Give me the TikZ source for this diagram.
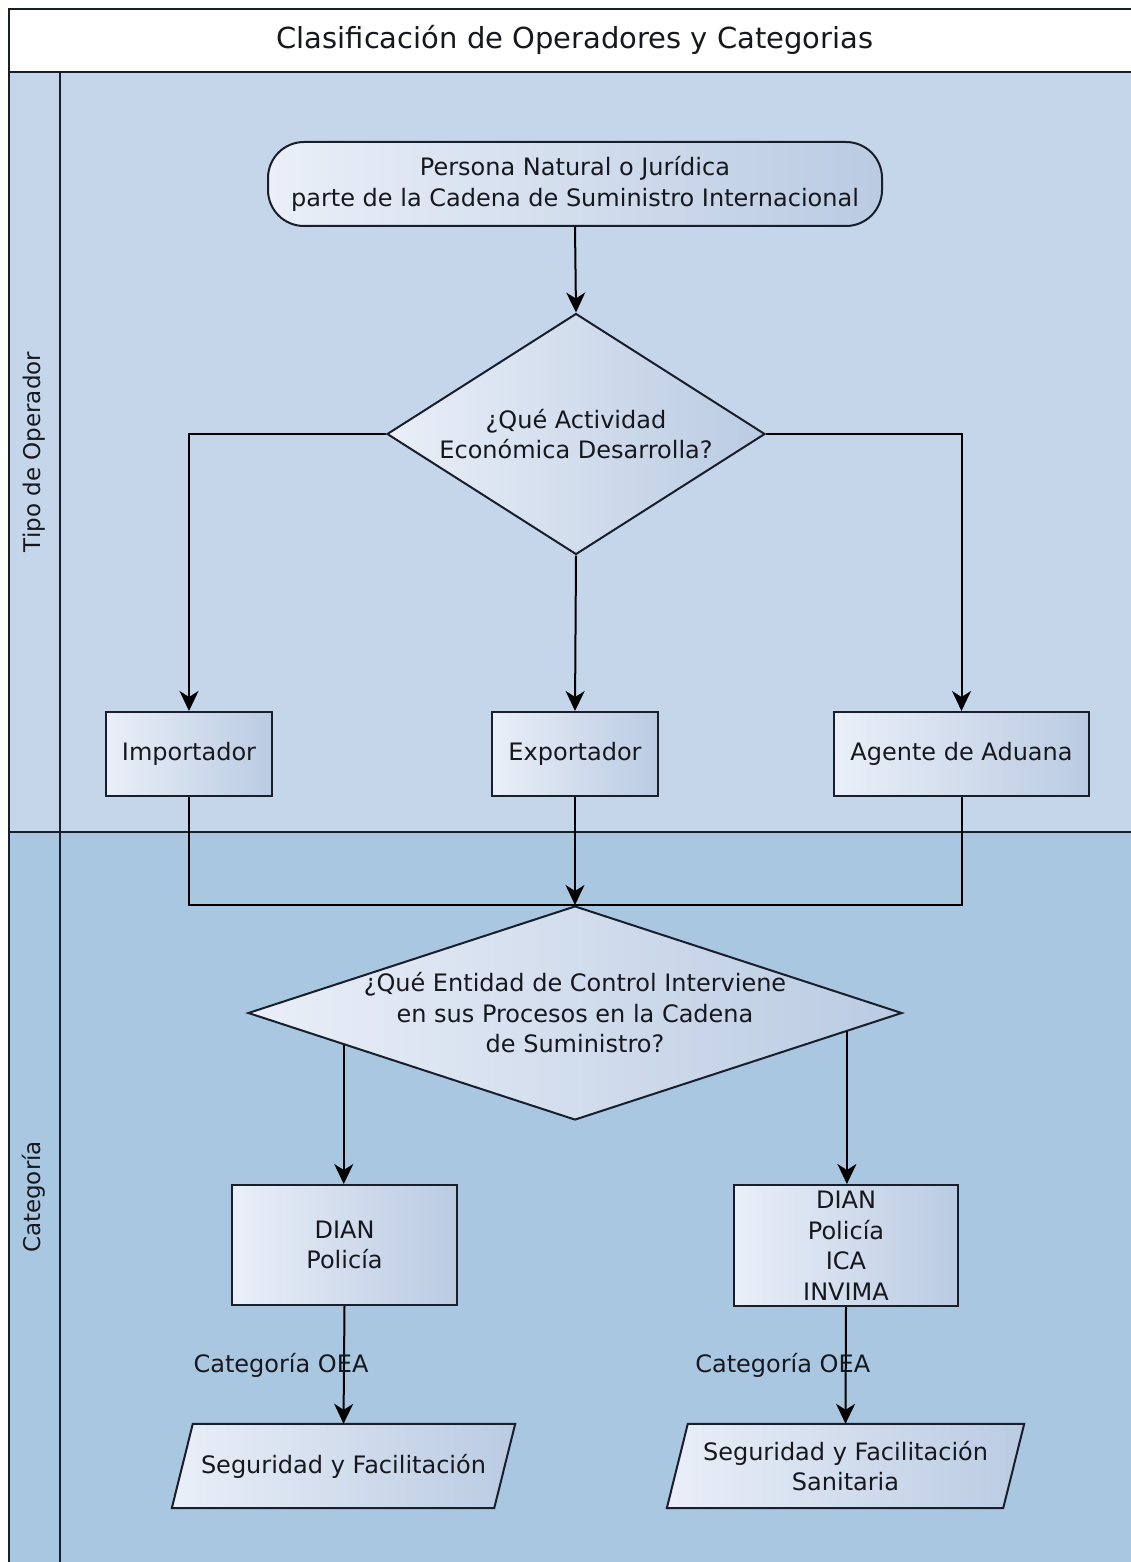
\documentclass[tikz,border=0pt]{standalone}
\usepackage{fontspec}
\setmainfont{DejaVu Sans}
\usetikzlibrary{shapes.geometric,arrows.meta,backgrounds,calc}
\definecolor{laneA}{RGB}{197,214,234}
\definecolor{laneB}{RGB}{170,199,225}
\definecolor{framec}{RGB}{24,30,44}
\definecolor{shL}{RGB}{234,239,248}
\definecolor{shR}{RGB}{186,203,226}
\definecolor{txt}{RGB}{22,24,30}
\begin{document}
\begin{tikzpicture}[x=1pt,y=-1pt,
  every node/.style={font=\fontsize{24}{30.5}\selectfont, text=txt, align=center},
  nodeshade/.style={left color=shL, right color=shR, draw=framec, line width=2pt},
  box/.style={nodeshade, rectangle, inner sep=0pt},
  dia/.style={nodeshade, diamond, inner sep=0pt},
  conn/.style={draw=black, line width=2pt},
  arrow/.style={conn, -{Stealth[length=20pt,width=19pt,inset=6pt]}},
  lanelabel/.style={rotate=90, font=\fontsize{23}{28}\selectfont},
  framel/.style={draw=framec, line width=2pt},
]
\useasboundingbox (0,0) rectangle (1131,1562);
\begin{pgfonlayer}{background}
  \fill[white] (0,0) rectangle (1131,1562);
  \fill[laneA] (9,72) rectangle (1131,832);
  \fill[laneB] (9,832) rectangle (1131,1562);
  \draw[framel] (1131,9) -- (9,9) -- (9,1562);
  \draw[framel] (9,72) -- (1131,72);
  \draw[framel] (60,72) -- (60,1562);
  \draw[framel] (9,832) -- (1131,832);
\end{pgfonlayer}

\node (title) at (575,40) {\fontsize{29}{34}\selectfont Clasificación de Operadores y Categorias};
\node[lanelabel] (laneAlabel) at (34,452) {Tipo de Operador};
\node[lanelabel] (laneBlabel) at (34,1197) {Categoría};

\node[nodeshade, rectangle, rounded corners=36pt, minimum width=614pt, minimum height=84pt, inner sep=0pt] (start) at (575,184)
  {Persona Natural o Jurídica\\parte de la Cadena de Suministro Internacional};

\node[dia, minimum width=378pt, minimum height=241pt,
  label={[align=center]center:¿Qué Actividad\\Económica Desarrolla?}] (d1) at (576,434) {};

\node[box, minimum width=166pt, minimum height=84pt] (imp) at (189,754) {Importador};
\node[box, minimum width=166pt, minimum height=84pt] (exp) at (575,754) {Exportador};
\node[box, minimum width=255pt, minimum height=84pt] (ag) at (961.5,754) {Agente de Aduana};

\node[dia, minimum width=654pt, minimum height=214pt,
  label={[align=center]center:¿Qué Entidad de Control Interviene\\en sus Procesos en la Cadena\\de Suministro?}] (d2) at (575,1013) {};

\node[box, minimum width=225pt, minimum height=120pt] (c1) at (344.5,1245) {DIAN\\Policía};
\node[box, minimum width=224pt, minimum height=121pt] (c2) at (846,1245.5) {DIAN\\Policía\\ICA\\INVIMA};

\node[minimum width=343pt, minimum height=84pt, inner sep=0pt] (o1) at (343.5,1466) {Seguridad y Facilitación};
\node[minimum width=357pt, minimum height=84pt, inner sep=0pt] (o2) at (845.5,1466) {Seguridad y Facilitación\\Sanitaria};
\begin{pgfonlayer}{background}
  \shade[nodeshade] ([xshift=21pt]o1.north west) -- (o1.north east) -- ([xshift=-21pt]o1.south east) -- (o1.south west) -- cycle;
  \shade[nodeshade] ([xshift=21pt]o2.north west) -- (o2.north east) -- ([xshift=-21pt]o2.south east) -- (o2.south west) -- cycle;
\end{pgfonlayer}

\draw[arrow] (start.south) -- (d1.north);
\draw[arrow] (d1.west) -| (imp.north);
\draw[arrow] (d1.south) -- (exp.north);
\draw[arrow] (d1.east) -| (ag.north);
\draw[conn] (imp.south) |- (d2.north);
\draw[conn] (ag.south) |- (d2.north);
\draw[arrow] (exp.south) -- (d2.north);
\coordinate (s1) at ($(d2.west)!0.295!(d2.south)$);
\coordinate (s2) at ($(d2.east)!0.171!(d2.south)$);
\draw[arrow] (s1) -- (s1 |- c1.north);
\draw[arrow] (s2) -- (s2 |- c2.north);
\draw[arrow] (c1.south) -- node[xshift=-63pt] (l1) {Categoría OEA} (o1.north);
\draw[arrow] (c2.south) -- node[xshift=-63pt] (l2) {Categoría OEA} (o2.north);
\end{tikzpicture}
\end{document}
